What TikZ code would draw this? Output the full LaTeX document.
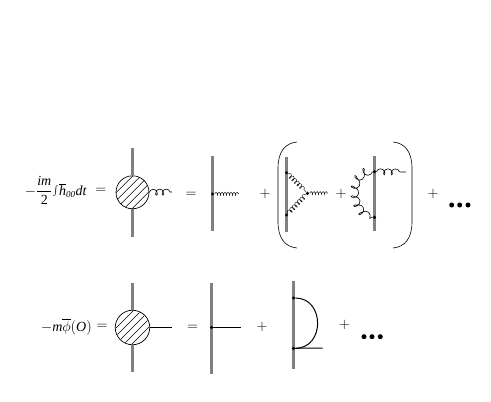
\documentclass[tikz,border=0pt]{standalone}
\usepackage{fontspec}
\setmainfont{Liberation Serif}
\usetikzlibrary{calc,decorations.pathmorphing}
\definecolor{linegray}{gray}{0.5}
\tikzset{
  heavy/.style={color=linegray,line width=2.2pt},
  vertex/.style={circle,fill=black,inner sep=0pt,minimum size=3.4pt},
  blob/.style={circle,draw,line width=0.7pt,fill=white,inner sep=0pt},
  gluon/.style={line width=0.6pt,decorate,decoration={coil,aspect=0.75,segment length=7.5pt,amplitude=3pt}},
  shortglu/.style={line width=0.6pt,decorate,decoration={coil,aspect=0.75,segment length=6.5pt,amplitude=3pt}},
  looseglu/.style={line width=0.6pt,decorate,decoration={coil,aspect=0.75,segment length=8.5pt,amplitude=3.5pt}},
  midgluon/.style={line width=0.4pt,decorate,decoration={coil,aspect=0.6,segment length=3.6pt,amplitude=2.2pt}},
  tinygluon/.style={line width=0.4pt,decorate,decoration={coil,aspect=0.5,segment length=3pt,amplitude=1.8pt}},
  plainline/.style={line width=1pt},
  bracket/.style={line width=0.6pt},
  bigdot/.style={circle,fill=black,inner sep=0pt,minimum size=5pt},
  lab/.style={inner sep=0pt,font=\fontsize{14}{16}\selectfont}
}
\newcommand{\hatchblob}[1]{
  \begin{scope}
    \clip (#1) circle (16.5pt);
    \foreach \off in {-24,-16,...,24}
      \draw[line width=0.5pt] ($(#1)+(\off-24,24)$) -- ($(#1)+(\off+24,-24)$);
  \end{scope}
}
\begin{document}
\begin{tikzpicture}[x=1pt,y=-1pt]
    \useasboundingbox (0,0) rectangle (491,402);
    % top row
    \node[lab,anchor=base east] (lhsa) at (87,195) {$-\displaystyle\frac{\mbox{\textit{im}}}{\mbox{2}}\mbox{\fontsize{19}{20}\selectfont$\int$}\overline{\mbox{\textit{h}}}_{\mbox{\fontsize{9}{10}\selectfont\textit{00}}}\mbox{\textit{dt}}$};
    \node[lab] (eqa) at (100.8,191) {$=$};
    \coordinate (ta) at (132.5,148);
    \coordinate (ba) at (132.5,237);
    \node[blob,minimum size=33pt] (bloba) at (132.5,192.3) {};
    \draw[heavy] (ta) -- (bloba);
    \draw[heavy] (ba) -- (bloba);
    \hatchblob{bloba}
    \coordinate (ga) at (172,192);
    \draw[shortglu] (bloba.east) -- (ga);
    \node[lab] (eqb) at (191,195) {$=$};
    \coordinate (tb) at (212.5,156);
    \coordinate (bb) at (212.5,231);
    \coordinate (gb) at (239,194);
    \draw[heavy] (tb) -- (bb);
    \node[vertex] (vb) at (212.5,194) {};
    \draw[tinygluon] (vb) -- (gb);
    \node[lab] (pa) at (265,194) {$+$};
    % bracket
    \draw[bracket] (297,142) .. controls (285,143) and (278,152) .. (278,168) -- (278,222)
      .. controls (278,238) and (285,247) .. (297,248);
    \draw[bracket] (393,142) .. controls (405,143) and (412,152) .. (412,168) -- (412,222)
      .. controls (412,238) and (405,247) .. (393,248);
    \coordinate (tc) at (286.5,157);
    \coordinate (bc) at (286.5,232);
    \draw[heavy] (tc) -- (bc);
    \node[vertex] (vca) at (286.5,172.7) {};
    \node[vertex] (vcb) at (286.5,215) {};
    \node[vertex] (vcc) at (307.5,193.3) {};
    \coordinate (gc) at (328,193.3);
    \draw[midgluon] (vca) -- (vcc);
    \draw[midgluon] (vcb) -- (vcc);
    \draw[tinygluon] (vcc) -- (gc);
    \node[lab] (pb) at (341,194) {$+$};
    \coordinate (td) at (374.5,156);
    \coordinate (bd) at (374.5,231);
    \draw[heavy] (td) -- (bd);
    \node[vertex] (vda) at (374.5,171.7) {};
    \node[vertex] (vdb) at (374.5,217.3) {};
    \coordinate (gd) at (406,172);
    \draw[gluon] (vda) -- (gd);
    \draw[looseglu] (vda) .. controls (350,172) and (350,212) .. (vdb);
    \node[lab] (pc) at (433,194) {$+$};
    \node[bigdot] (da) at (451.7,205) {};
    \node[bigdot] (db) at (459.7,205) {};
    \node[bigdot] (dc) at (468,205) {};
    % bottom row
    \node[lab,anchor=base east] (lhsb) at (92,331) {$-\mbox{\textit{m}}\overline{\phi}(\mbox{\textit{O}})$};
    \node[lab] (eqc) at (102,327.3) {$=$};
    \coordinate (te) at (132.5,282.7);
    \coordinate (be) at (132.5,371.7);
    \node[blob,minimum size=34.5pt] (blobe) at (132.5,327.5) {};
    \draw[heavy] (te) -- (blobe);
    \draw[heavy] (be) -- (blobe);
    \hatchblob{blobe}
    \coordinate (ge) at (172.3,327.5);
    \draw[plainline] (blobe.east) -- (ge);
    \node[lab] (eqd) at (192.7,327.7) {$=$};
    \coordinate (tf) at (211.5,283);
    \coordinate (bf) at (211.5,374);
    \coordinate (gf) at (241,327.5);
    \draw[heavy] (tf) -- (bf);
    \node[vertex] (vf) at (211.5,327.5) {};
    \draw[plainline] (vf) -- (gf);
    \node[lab] (pd) at (262,326.7) {$+$};
    \coordinate (tg) at (293.5,281);
    \coordinate (bg) at (293.5,369);
    \coordinate (gg) at (322.7,348);
    \draw[heavy] (tg) -- (bg);
    \node[vertex] (vga) at (293.5,298) {};
    \node[vertex] (vgb) at (293.5,348.3) {};
    \draw[plainline] (vga) .. controls (325,298) and (325,348.3) .. (vgb);
    \draw[plainline] (vgb) -- (gg);
    \node[lab] (pe) at (344.3,325) {$+$};
    \node[bigdot] (dd) at (364,336.7) {};
    \node[bigdot] (de) at (372,336.7) {};
    \node[bigdot] (df) at (380.3,336.7) {};
  \end{tikzpicture}
\end{document}
